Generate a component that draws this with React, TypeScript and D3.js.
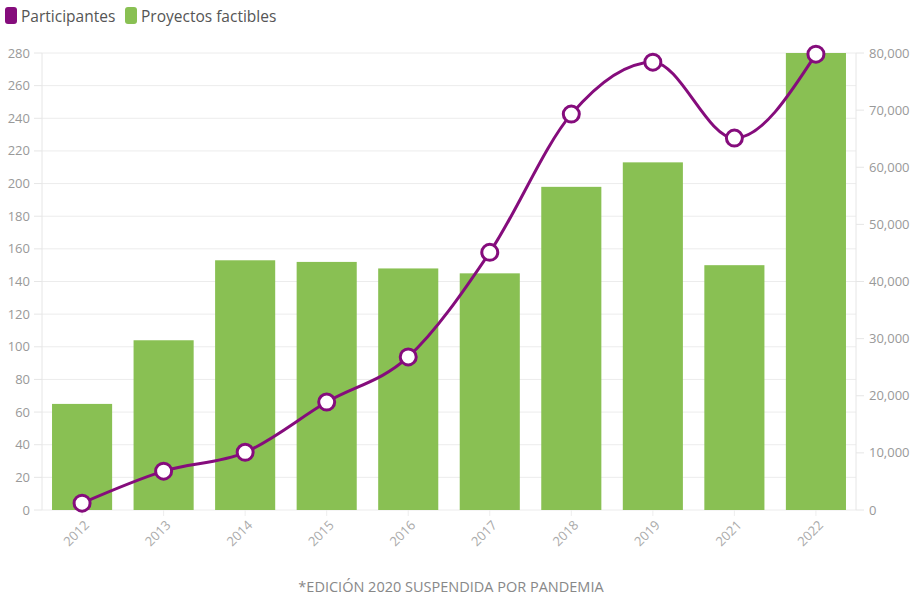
import React from "react";
import * as d3 from "d3";

const categories = ["2012", "2013", "2014", "2015", "2016", "2017", "2018", "2019", "2021", "2022"];
const proyectos = [65, 104, 153, 152, 148, 145, 198, 213, 150, 280];
const participantes = [1200, 6800, 10100, 18900, 26800, 45100, 69300, 78400, 65100, 79800];
const leftTicks = d3.range(0, 281, 20);
const rightTicks = d3.range(0, 80001, 10000);

const W = 914, H = 595;
const M = { left: 42, right: 856, top: 53, bottom: 510 };
const PURPLE = "#850c7c";
const GREEN = "#89c053";
const FONT = "'Open Sans', 'Noto Sans', sans-serif";

export default function App() {
  const x = d3.scaleBand().domain(categories).range([M.left, M.right]).paddingInner(0.263).paddingOuter(0.123);
  const yL = d3.scaleLinear().domain([0, 280]).range([M.bottom, M.top]);
  const yR = d3.scaleLinear().domain([0, 80000]).range([M.bottom, M.top]);
  const cx = (c: string) => (x(c) as number) + x.bandwidth() / 2;
  const line = d3
    .line<number>()
    .x((_, i) => cx(categories[i]))
    .y((d) => yR(d))
    .curve(d3.curveMonotoneX);

  return (
    <svg width={W} height={H} style={{ position: "absolute", left: 0, top: 0, fontFamily: FONT }}>
      <rect width={W} height={H} fill="#fff" />
      {/* legend */}
      <rect x={5} y={7} width={12} height={17} rx={3} fill={PURPLE} />
      <text x={21} y={21.5} fontSize={15.5} fill="#555">Participantes</text>
      <rect x={125} y={7} width={12} height={17} rx={3} fill={GREEN} />
      <text x={141} y={21.5} fontSize={15.5} fill="#555">Proyectos factibles</text>

      {/* grid */}
      {leftTicks.map((t) => (
        <line key={"g" + t} x1={M.left} x2={M.right} y1={yL(t)} y2={yL(t)} stroke="#ececec" strokeWidth={1} />
      ))}
      <line x1={M.left} x2={M.left} y1={M.top} y2={M.bottom} stroke="#e6e6e6" />
      <line x1={M.right} x2={M.right} y1={M.top} y2={M.bottom} stroke="#e6e6e6" />
      {leftTicks.map((t) => (
        <line key={"lt" + t} x1={M.left - 8} x2={M.left} y1={yL(t)} y2={yL(t)} stroke="#e6e6e6" />
      ))}
      {rightTicks.map((t) => (
        <line key={"rt" + t} x1={M.right} x2={M.right + 8} y1={yR(t)} y2={yR(t)} stroke="#e6e6e6" />
      ))}

      {/* left axis labels */}
      {leftTicks.map((t) => (
        <text key={"ll" + t} x={30} y={yL(t) + 4.5} fontSize={13} fill="#999" textAnchor="end">
          {t}
        </text>
      ))}
      {/* right axis labels */}
      {rightTicks.map((t) => (
        <text key={"rl" + t} x={869} y={yR(t) + 4.5} fontSize={13} fill="#999" textAnchor="start">
          {d3.format(",")(t)}
        </text>
      ))}

      {/* bars */}
      {categories.map((c, i) => (
        <rect key={"b" + c} x={x(c)} y={yL(proyectos[i])} width={x.bandwidth()} height={M.bottom - yL(proyectos[i])} fill={GREEN} />
      ))}

      {/* x ticks and labels */}
      {categories.map((c) => (
        <g key={"x" + c}>
          <line x1={cx(c)} x2={cx(c)} y1={M.bottom} y2={M.bottom + 6} stroke="#eee" />
          <text
            transform={`translate(${cx(c) + 8},${M.bottom + 16}) rotate(-45)`}
            fontSize={13}
            fill="#aaa"
            textAnchor="end"
          >
            {c}
          </text>
        </g>
      ))}

      {/* line */}
      <path d={line(participantes) || ""} fill="none" stroke={PURPLE} strokeWidth={3} />
      {participantes.map((v, i) => (
        <circle key={"p" + i} cx={cx(categories[i])} cy={yR(v)} r={8} fill="#fff" stroke={PURPLE} strokeWidth={3} />
      ))}

      {/* footnote */}
      <text x={451} y={592} fontSize={14.5} fill="#888" textAnchor="middle">
        *EDICIÓN 2020 SUSPENDIDA POR PANDEMIA
      </text>
    </svg>
  );
}
